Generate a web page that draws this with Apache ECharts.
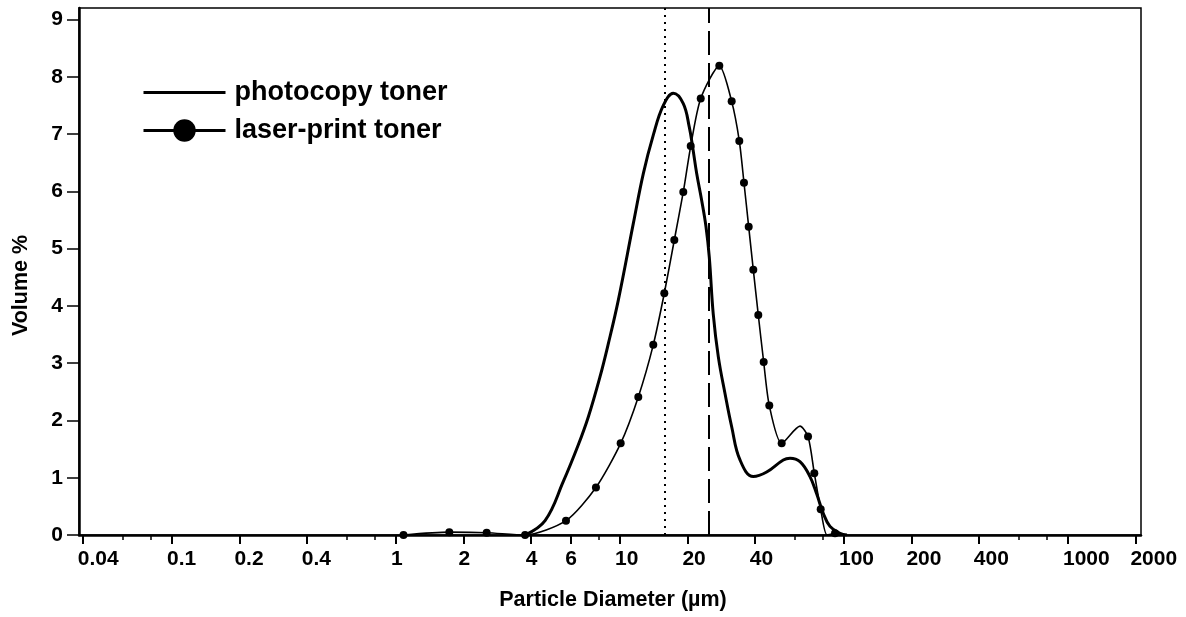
<!DOCTYPE html>
<html>
<head>
<meta charset="utf-8">
<script src="https://cdn.jsdelivr.net/npm/echarts@6/dist/echarts.min.js"></script>
<style>
  html, body { margin: 0; padding: 0; background: #fff; }
  #chart { width: 1186px; height: 617px; }
</style>
</head>
<body>
<div id="chart"></div>
<script>
// Particle size distributions (diameter in µm, volume %)
const photocopyDiam = [3.77, 4.63, 5.58, 6.51, 7.22, 8.14, 8.87, 9.83, 11.47, 12.71, 14.08, 15.61, 17.30, 19.17, 20.39, 21.11, 22.0, 23.16, 24.21, 25.04, 26.09, 27.48, 29.43, 31.52, 34.34, 39.37, 45.17, 53.58, 57.41, 63.6, 70.5, 75.5, 80.8, 86.6, 96.0, 103.1];
const photocopyVol  = [0.00, 0.25, 0.93, 1.57, 2.06, 2.76, 3.34, 4.10, 5.44, 6.31, 6.98, 7.50, 7.71, 7.53, 7.12, 6.77, 6.31, 5.84, 5.38, 4.85, 3.85, 3.11, 2.47, 1.89, 1.31, 1.02, 1.10, 1.31, 1.34, 1.28, 1.02, 0.72, 0.38, 0.15, 0.03, 0.00];

const laserDiam = [1.08, 1.73, 2.54, 3.77, 5.74, 7.81, 10.07, 12.07, 14.08, 15.77, 17.48, 19.17, 20.69, 22.93, 27.76, 31.52, 34.09, 35.77, 37.55, 39.37, 41.44, 43.80, 46.40, 52.70, 63.6, 69.1, 73.7, 78.7, 84.0, 91.2];
const laserVol  = [0.00, 0.05, 0.04, 0.00, 0.25, 0.83, 1.60, 2.41, 3.32, 4.22, 5.15, 5.99, 6.79, 7.62, 8.19, 7.57, 6.88, 6.15, 5.38, 4.63, 3.84, 3.02, 2.26, 1.60, 1.90, 1.72, 1.08, 0.45, 0.00, 0.03];
// vertices of the laser-print curve drawn without a dot
const laserUnmarked = [63.6, 84.0];

// reference diameters marked by vertical lines
const photocopyMedian = 15.8;
const laserMedian = 25.0;

// axis ticks
const xTickLabels = [0.04, 0.1, 0.2, 0.4, 1, 2, 4, 6, 10, 20, 40, 100, 200, 400, 1000, 2000];
const xMinorTicks = [0.06, 0.08, 0.6, 0.8, 8, 60, 80, 600, 800];
const yTickLabels = [0, 1, 2, 3, 4, 5, 6, 7, 8, 9];

const FONT = "'Liberation Sans', Arial, sans-serif";

const photocopyData = photocopyDiam.map((d, i) => [d, photocopyVol[i]]);
const laserData = laserDiam.map((d, i) => (
  laserUnmarked.includes(d)
    ? { value: [d, laserVol[i]], symbol: 'none' }
    : [d, laserVol[i]]
));

const chart = echarts.init(document.getElementById('chart'), null, { renderer: 'canvas' });

chart.setOption({
  animation: false,
  backgroundColor: '#fff',
  grid: {
    left: 79, right: 45, top: 8, bottom: 82,
    containLabel: false,
    outerBoundsMode: 'none',
    show: true,
    borderColor: '#000',
    borderWidth: 1.5,
    backgroundColor: 'transparent'
  },
  legend: {
    orient: 'vertical',
    left: 137,
    top: 74,
    itemWidth: 82,
    itemHeight: 28,
    itemGap: 11,
    textStyle: {
      fontFamily: FONT, fontSize: 27, fontWeight: 'bold', color: '#000',
      padding: [0, 0, 0, 4]
    },
    data: [
      { name: 'photocopy toner', lineStyle: { width: 3 }, itemStyle: { opacity: 0 } },
      { name: 'laser-print toner', lineStyle: { width: 3 } }
    ]
  },
  xAxis: [
    {
      type: 'log',
      logBase: 10,
      min: 0.03845,
      max: 2118,
      name: 'Particle Diameter (µm)',
      nameLocation: 'middle',
      nameGap: 54,
      nameTextStyle: {
        fontFamily: FONT, fontSize: 21.5, fontWeight: 'bold', color: '#000',
        padding: [0, 0, 0, 6]
      },
      axisLine: { show: true, lineStyle: { color: '#000', width: 2.5 } },
      axisTick: { show: true, inside: false, length: 9, customValues: xTickLabels, lineStyle: { color: '#000', width: 2 } },
      axisLabel: {
        customValues: xTickLabels,
        fontFamily: FONT, fontSize: 21, fontWeight: 'bold', color: '#000',
        margin: 14,
        align: 'left',
        padding: [0, 0, 0, -5],
        formatter: v => String(+Number(v).toPrecision(6))
      },
      splitLine: { show: false },
      minorTick: { show: false },
      minorSplitLine: { show: false }
    },
    {
      type: 'log',
      logBase: 10,
      min: 0.03845,
      max: 2118,
      position: 'bottom',
      axisLine: { show: false },
      axisTick: { show: true, inside: false, length: 5, customValues: xMinorTicks, lineStyle: { color: '#000', width: 1.5 } },
      axisLabel: { show: false },
      splitLine: { show: false }
    }
  ],
  yAxis: {
    type: 'value',
    min: 0,
    max: 9.2,
    name: 'Volume %',
    nameLocation: 'middle',
    nameGap: 47,
    nameTextStyle: {
      fontFamily: FONT, fontSize: 21.5, fontWeight: 'bold', color: '#000',
      padding: [0, 0, 0, -28]
    },
    axisLine: { show: true, lineStyle: { color: '#000', width: 2.5 } },
    axisTick: { show: true, inside: false, length: 12, customValues: yTickLabels, lineStyle: { color: '#000', width: 1.5 } },
    axisLabel: {
      customValues: yTickLabels,
      fontFamily: FONT, fontSize: 21, fontWeight: 'bold', color: '#000',
      margin: 16
    },
    splitLine: { show: false }
  },
  series: [
    {
      name: 'photocopy toner',
      type: 'line',
      data: photocopyData,
      smooth: 0.4,
      symbol: 'none',
      lineStyle: { color: '#000', width: 3 },
      itemStyle: { color: '#000' },
      z: 3,
      markLine: {
        silent: true,
        symbol: 'none',
        label: { show: false },
        data: [
          { xAxis: photocopyMedian, lineStyle: { color: '#000', width: 2, type: [2, 5] } },
          { xAxis: laserMedian, lineStyle: { color: '#000', width: 2, type: [24, 8] } }
        ]
      }
    },
    {
      name: 'laser-print toner',
      type: 'line',
      data: laserData,
      smooth: 0.25,
      symbol: 'circle',
      symbolSize: 8,
      showSymbol: true,
      showAllSymbol: true,
      lineStyle: { color: '#000', width: 1.6 },
      itemStyle: { color: '#000' },
      z: 4
    }
  ]
});
</script>
</body>
</html>
